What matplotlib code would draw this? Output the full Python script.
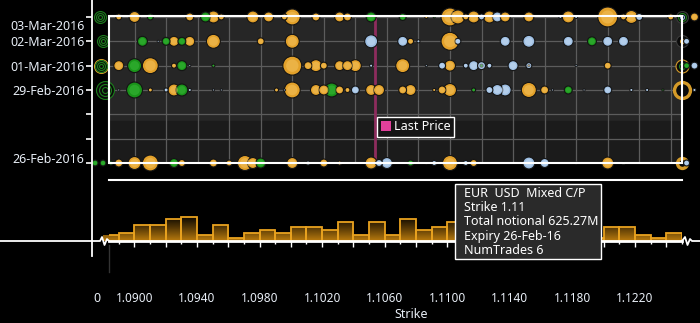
import numpy as np
import pandas as pd
import matplotlib
matplotlib.use("Agg")
import matplotlib.pyplot as plt
import matplotlib.dates as mdates
from matplotlib.patches import Rectangle, Patch
from matplotlib.lines import Line2D
from matplotlib.colors import LinearSegmentedColormap
from matplotlib.transforms import ScaledTranslation
from matplotlib.ticker import FuncFormatter

plt.rcParams['font.family'] = ['Noto Sans', 'DejaVu Sans']

# bubbles per expiry: (strike, total notional in M, type)
row_0303 = [(1.0890, 99, 'mix'), (1.0900, 333, 'mix'), (1.0910, 99, 'call'), (1.0935, 176, 'mix'),
            (1.0945, 275, 'call'), (1.0950, 396, 'mix'), (1.0955, 99, 'mix'), (1.0975, 396, 'mix'),
            (1.0985, 275, 'mix'), (1.0995, 99, 'mix'), (1.1000, 704, 'mix'), (1.1015, 176, 'mix'),
            (1.1030, 275, 'mix'), (1.1035, 176, 'mix'), (1.1050, 275, 'call'), (1.1070, 135, 'call'),
            (1.1085, 25, 'mix'), (1.1090, 11, 'call'), (1.1100, 891, 'mix'), (1.1105, 539, 'mix'),
            (1.1110, 99, 'mix'), (1.1115, 396, 'mix'), (1.1120, 99, 'put'), (1.1125, 396, 'mix'),
            (1.1130, 275, 'put'), (1.1135, 275, 'mix'), (1.1150, 275, 'mix'), (1.1170, 25, 'put'),
            (1.1175, 396, 'mix'), (1.1180, 25, 'put'), (1.1200, 1100, 'mix'), (1.1210, 99, 'mix'),
            (1.1215, 465, 'mix'), (1.1220, 135, 'put'), (1.1240, 99, 'mix'), (1.1255, 176, 'mix')]
row_0302 = [(1.0905, 275, 'call'), (1.0915, 11, 'put'), (1.0920, 176, 'call'), (1.0925, 275, 'mix'),
            (1.0930, 176, 'call'), (1.0935, 275, 'mix'), (1.0950, 539, 'mix'), (1.0980, 135, 'mix'),
            (1.1000, 539, 'mix'), (1.1050, 465, 'put'), (1.1070, 275, 'put'), (1.1075, 99, 'mix'),
            (1.1080, 25, 'put'), (1.1100, 891, 'mix'), (1.1105, 99, 'put'), (1.1135, 275, 'put'),
            (1.1150, 396, 'put'), (1.1175, 275, 'put'), (1.1190, 223, 'call'), (1.1200, 275, 'put'),
            (1.1210, 275, 'put'), (1.1250, 99, 'put')]
row_0301 = [(1.0890, 275, 'mix'), (1.0900, 539, 'call'), (1.0910, 704, 'mix'), (1.0925, 69, 'mix'),
            (1.0930, 275, 'call'), (1.0935, 11, 'put'), (1.0950, 25, 'call'), (1.1000, 993, 'mix'),
            (1.1010, 176, 'mix'), (1.1015, 396, 'mix'), (1.1020, 135, 'mix'), (1.1030, 275, 'mix'),
            (1.1035, 275, 'mix'), (1.1040, 396, 'mix'), (1.1050, 25, 'put'), (1.1070, 539, 'mix'),
            (1.1085, 11, 'put'), (1.1095, 135, 'put'), (1.1100, 333, 'mix'), (1.1110, 69, 'put'),
            (1.1115, 275, 'put'), (1.1120, 176, 'put'), (1.1120, 25, 'call'), (1.1125, 69, 'put'),
            (1.1140, 275, 'put'), (1.1150, 99, 'put'), (1.1150, 11, 'mix'), (1.1180, 11, 'put'),
            (1.1200, 135, 'mix'), (1.1250, 99, 'call'), (1.1255, 135, 'put')]
row_0229 = [(1.0890, 11, 'put'), (1.0900, 704, 'call'), (1.0910, 44, 'mix'), (1.0920, 44, 'put'),
            (1.0925, 396, 'mix'), (1.0930, 396, 'call'), (1.0935, 25, 'put'), (1.0950, 11, 'put'),
            (1.0955, 11, 'put'), (1.0990, 44, 'mix'), (1.0995, 11, 'put'), (1.1000, 704, 'mix'),
            (1.1015, 333, 'mix'), (1.1020, 275, 'mix'), (1.1025, 539, 'call'), (1.1030, 176, 'mix'),
            (1.1035, 69, 'mix'), (1.1040, 176, 'put'), (1.1050, 333, 'mix'), (1.1055, 333, 'mix'),
            (1.1070, 176, 'mix'), (1.1075, 333, 'mix'), (1.1090, 25, 'mix'), (1.1095, 176, 'mix'),
            (1.1100, 465, 'mix'), (1.1115, 44, 'call'), (1.1125, 135, 'put'), (1.1130, 333, 'put'),
            (1.1135, 396, 'put'), (1.1150, 625, 'mix'), (1.1160, 176, 'mix'), (1.1165, 11, 'put'),
            (1.1175, 176, 'call'), (1.1185, 11, 'put'), (1.1200, 176, 'put'), (1.1215, 25, 'put'),
            (1.1225, 25, 'put'), (1.1235, 11, 'call'), (1.1255, 25, 'put')]
row_0226 = [(1.0875, 99, 'call'), (1.0880, 99, 'call'), (1.0885, 44, 'call'), (1.0890, 176, 'mix'),
            (1.0900, 465, 'mix'), (1.0910, 704, 'mix'), (1.0925, 223, 'call'), (1.0930, 135, 'mix'),
            (1.0950, 176, 'mix'), (1.0960, 99, 'mix'), (1.0970, 625, 'mix'), (1.0975, 333, 'mix'),
            (1.0980, 275, 'call'), (1.1000, 333, 'mix'), (1.1010, 44, 'put'), (1.1020, 176, 'mix'),
            (1.1030, 44, 'mix'), (1.1050, 396, 'mix'), (1.1055, 135, 'put'), (1.1060, 333, 'put'),
            (1.1075, 99, 'call'), (1.1085, 11, 'put'), (1.1090, 69, 'put'), (1.1100, 625, 'mix'),
            (1.1110, 69, 'put'), (1.1115, 135, 'mix'), (1.1150, 396, 'put'), (1.1160, 223, 'put'),
            (1.1180, 11, 'put'), (1.1200, 396, 'mix'), (1.1210, 25, 'call'), (1.1250, 99, 'put')]
rows = {'2016-03-03': row_0303, '2016-03-02': row_0302, '2016-03-01': row_0301,
        '2016-02-29': row_0229, '2016-02-26': row_0226}

# out-of-range rings at the edges: (expiry, strike, notional, type)
rings = [('2016-03-03', 1.0878, 44, 'call'), ('2016-03-03', 1.0878, 176, 'call'), ('2016-03-03', 1.0878, 396, 'call'),
         ('2016-03-02', 1.0880, 44, 'call'), ('2016-03-02', 1.0880, 176, 'call'), ('2016-03-02', 1.0880, 396, 'call'),
         ('2016-03-01', 1.0879, 44, 'call'), ('2016-03-01', 1.0879, 176, 'call'), ('2016-03-01', 1.0879, 396, 'call'),
         ('2016-03-01', 1.0879, 539, 'mix'),
         ('2016-02-29', 1.0881, 99, 'call'), ('2016-02-29', 1.0881, 396, 'call'), ('2016-02-29', 1.0881, 891, 'call'),
         ('2016-03-03', 1.1247, 44, 'put'), ('2016-03-03', 1.1247, 176, 'call'), ('2016-03-03', 1.1247, 396, 'dark'),
         ('2016-03-02', 1.1247, 44, 'mix'), ('2016-03-02', 1.1247, 396, 'dark'),
         ('2016-03-01', 1.1247, 99, 'call'), ('2016-03-01', 1.1247, 465, 'mix'),
         ('2016-02-29', 1.1247, 704, 'mix'), ('2016-02-26', 1.1247, 275, 'mix')]
thick_rings = [('2016-02-29', 1.1247), ('2016-02-26', 1.1247)]

day_ticks = ['2016-02-26', '2016-02-27', '2016-02-28', '2016-02-29', '2016-03-01', '2016-03-02', '2016-03-03']
day_labels = ['26-Feb-2016', '', '', '29-Feb-2016', '01-Mar-2016', '02-Mar-2016', '03-Mar-2016']

# histogram of volume per 0.001 strike bucket
hist_heights = [6, 8, 16, 16, 21.7, 24, 6, 16, 2.7, 8, 11, 8, 13.7, 13.7, 11, 19, 6, 19, 6, 22, 11, 14, 19,
                14, 11, 19, 8, 16, 11, 6, 8, 3, 13.7, 13.7, 6, 3, 8]
hist_left = np.round(1.0880 + 0.001 * np.arange(len(hist_heights)), 4)

last_price = 1.10525
tooltip = ['EUR  USD  Mixed C/P', 'Strike 1.11', 'Total notional 625.27M', 'Expiry 26-Feb-16', 'NumTrades 6']

colors = {'mix': '#E3A12A', 'call': '#1A941A', 'put': '#9DBEE2', 'dark': '#3a3a3a'}
lights = {'mix': '#F6C866', 'call': '#3FC03F', 'put': '#CFE2F6'}
ring_colors = {'mix': '#D49A28', 'call': '#1C7E1C', 'put': '#8FB3DA', 'dark': '#3a3a3a'}

W, H = 700, 323
def box(x0, y0, x1, y1):
    return [x0 / W, 1 - y1 / H, (x1 - x0) / W, (y1 - y0) / H]

fig = plt.figure(figsize=(7, 3.23), dpi=100, facecolor='black')
ax = fig.add_axes(box(109, 16, 682, 163))
axh = fig.add_axes(box(109, 180, 682, 241))

x_lo, x_hi = 1.08838, 1.12471
d0 = mdates.datestr2num('2016-02-26')

# main bubble panel
ax.set_facecolor('#262626')
ax.set_xlim(x_lo, x_hi)
ax.set_ylim(d0, d0 + 6.04)
ax.axhspan(d0, d0 + 1.72, color='#1b1b1b', zorder=0.2)
ax.set_axisbelow(True)
ax.set_xticks(np.arange(1.0900, 1.1241, 0.002))
ax.tick_params(axis='x', length=0, labelbottom=False)
ax.set_yticks([mdates.datestr2num(d) for d in day_ticks])
ax.set_yticklabels(day_labels)
ax.grid(True, color='#5c5c5c', lw=0.9)
for s in ax.spines.values():
    s.set_visible(False)
ax.spines['left'].set_position(('outward', 17 * 0.72))
ax.tick_params(axis='y', colors='white', labelcolor='#e8eef6', length=4, width=1.2, labelsize=9, pad=1.5)
lbls = ax.get_yticklabels()
lbls[-1].set_transform(lbls[-1].get_transform() + ScaledTranslation(0, -0.08, fig.dpi_scale_trans))
lbls[0].set_transform(lbls[0].get_transform() + ScaledTranslation(0, 0.05, fig.dpi_scale_trans))

ax.axvline(last_price, color='#8e2c5e', lw=2, zorder=2)

# edge rings (out of range strikes), black filled
for d, k, n, t in sorted(rings, key=lambda r: -r[2]):
    lw = 2.4 if (d, k) in thick_rings else 0.8
    ax.scatter([k], [mdates.datestr2num(d)], s=0.187 * n, facecolors='#0a0a0a',
               edgecolors=ring_colors[t], linewidths=lw, zorder=3, clip_on=False)

for d, pts in rows.items():
    pts = sorted(pts, key=lambda p: -p[1])
    xs = [p[0] for p in pts]
    ys = [mdates.datestr2num(d)] * len(pts)
    ax.scatter(xs, ys, s=[0.187 * p[1] for p in pts], c=[colors[p[2]] for p in pts],
               edgecolors='#141414', linewidths=0.8, zorder=4, clip_on=False)
    ax.scatter(xs, ys, s=[0.08 * p[1] for p in pts], c=[lights[p[2]] for p in pts],
               linewidths=0, alpha=0.45, zorder=4, clip_on=False)

ax.add_patch(Rectangle((0, 0), 1, 1, transform=ax.transAxes, fill=False, ec='white', lw=1.5,
                       zorder=6, clip_on=False))

leg = ax.legend(handles=[Patch(facecolor='#E0409A', label='Last Price')], loc='upper left',
                bbox_to_anchor=(0.468, 0.315), borderaxespad=0, fancybox=False, framealpha=1,
                facecolor='#151515', edgecolor='white', fontsize=9, handlelength=0.8,
                handleheight=0.8, handletextpad=0.25, borderpad=0.3)
leg.get_frame().set_linewidth(1)
for t in leg.get_texts():
    t.set_color('white')
leg.set_zorder(7)

# histogram panel
axh.set_facecolor('black')
bars = axh.bar(hist_left, hist_heights, width=0.001, align='edge', facecolor='none',
               edgecolor='#E9A21F', lw=1.3, zorder=2)
cmap = LinearSegmentedColormap.from_list('g', ['#B87A0E', '#5a3b06', '#080500'])
grad = np.linspace(0, 1, 64).reshape(-1, 1)
for b in bars:
    im = axh.imshow(grad, extent=(b.get_x(), b.get_x() + b.get_width(), 0, 25), origin='lower',
                    cmap=cmap, aspect='auto', zorder=1)
    im.set_clip_path(b)
axh.set_xlim(x_lo, x_hi)
axh.set_ylim(0, 61)
axh.set_yticks([])
for s in ['left', 'right']:
    axh.spines[s].set_visible(False)
axh.spines['top'].set_color('white')
axh.spines['top'].set_linewidth(1.5)
axh.spines['bottom'].set_color('white')
axh.spines['bottom'].set_linewidth(2)
axh.set_xticks(np.arange(1.0900, 1.1241, 0.002))
axh.set_xticks(np.arange(1.0890, 1.1250, 0.002), minor=True)
axh.xaxis.set_major_formatter(FuncFormatter(
    lambda v, p: f'{v:.4f}' if round((v - 1.0900) / 0.002) % 2 == 0 else ''))
axh.tick_params(axis='x', which='major', colors='white', labelcolor='#e8eef6', length=4, width=1,
                labelsize=8.5, pad=33)
axh.tick_params(axis='x', which='minor', colors='white', length=2.2, width=1)

fig.text(411 / W, 1 - 315 / H, 'Strike', color='#e8eef6', fontsize=9, ha='center', va='center')
fig.text(97 / W, 1 - 299 / H, '0', color='#e8eef6', fontsize=9, ha='center', va='center')

# axis decoration lines
def fline(xs, ys, **kw):
    fig.add_artist(Line2D([x / W for x in xs], [1 - y / H for y in ys], transform=fig.transFigure, **kw))

fline([92, 92], [0, 256], color='white', lw=1.3)
fline([0, 100, 102, 104.5, 107, 109], [241, 241, 237, 245, 239, 241], color='white', lw=1.3)
fline([682, 685, 687.5, 690, 692, 700], [241, 237, 245, 239, 241, 241], color='white', lw=1.3)
fline([109, 109], [245, 272], color='#333333', lw=1)

# tooltip
fig.add_artist(Rectangle((455 / W, 1 - 259 / H), 146 / W, 75 / H, transform=fig.transFigure,
                         facecolor='#2a2a2a', edgecolor='white', lw=1, zorder=10))
for i, line in enumerate(tooltip):
    fig.text(464 / W, 1 - (193.5 + 14.2 * i) / H, line, color='white', fontsize=9,
             va='center', ha='left', zorder=11)

fig.savefig('out.png', dpi=100, facecolor='black')
